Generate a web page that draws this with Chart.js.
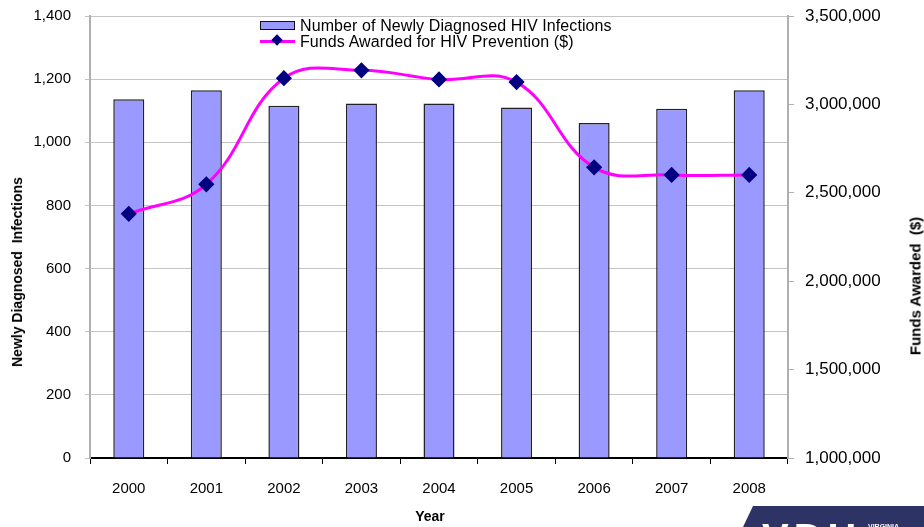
<!DOCTYPE html>
<html>
<head>
  <meta charset="utf-8">
  <title>HIV Infections and Prevention Funds</title>
  <script src="https://cdn.jsdelivr.net/npm/chart.js@4.4.1/dist/chart.umd.min.js"></script>
  <style>
    body { margin: 0; background: #fff; font-family: "Liberation Sans", Arial, sans-serif; }
    #wrap { position: relative; width: 924px; height: 527px; overflow: hidden; }
    #myChart { position: absolute; left: 0; top: -7px; }
    .ytitle { position: absolute; font-weight: bold; white-space: nowrap;
      transform: translate(-50%, -50%) rotate(-90deg); }
    #legend { position: absolute; left: 260px; top: 18px; font-size: 16px; line-height: 15.5px; color: #000; }
    #legend .row { display: flex; align-items: center; white-space: nowrap; letter-spacing: 0.1px; }
    .swatch-bar { width: 33px; height: 7px; background: #9999FF; border: 1px solid #111; margin-right: 5px; }
    .swatch-line { position: relative; width: 35px; height: 3px; background: #FF00FF; margin-right: 5px; }
    .swatch-line:after { content: ""; position: absolute; left: 13px; top: -4px; width: 8px; height: 8px;
      background: #000080; transform: rotate(45deg); }
    #logo { position: absolute; left: 743px; top: 506px; width: 181px; height: 21px; background: #2E3366;
      clip-path: polygon(10px 0, 100% 0, 100% 100%, 0 100%); overflow: hidden; color: #fff; }
  </style>
</head>
<body>
<div id="wrap">
  <canvas id="myChart" width="924" height="534"></canvas>
  <div class="ytitle" style="left:17px; top:272px; font-size:14px;">Newly Diagnosed&nbsp; Infections</div>
  <div class="ytitle" style="left:915px; top:286px; font-size:15px;">Funds Awarded&nbsp; ($)</div>
  <div style="position:absolute; left:430px; top:516px; transform:translate(-50%,-50%); font-weight:bold; font-size:14px;">Year</div>
  <div id="legend">
    <div class="row"><span class="swatch-bar"></span>Number of Newly Diagnosed HIV Infections</div>
    <div class="row"><span class="swatch-line"></span>Funds Awarded for HIV Prevention ($)</div>
  </div>
  <div id="logo">
    <span style="position:absolute; left:19px; top:12px; font:bold 40px/1 'Liberation Sans'; letter-spacing:5px;">VDH</span>
    <span style="position:absolute; left:125px; top:17px; font:bold 7px/1 'Liberation Sans';">VIRGINIA</span>
  </div>
</div>

<script>
  // data
  const years = ['2000', '2001', '2002', '2003', '2004', '2005', '2006', '2007', '2008'];
  const newInfections = [1136, 1165, 1116, 1123, 1123, 1110, 1061, 1106, 1165];
  const fundsAwarded = [2381000, 2548000, 3148000, 3193000, 3141000, 3126000, 2644000, 2601000, 2601000];

  const barLabel = 'Number of Newly Diagnosed HIV Infections';
  const lineLabel = 'Funds Awarded for HIV Prevention ($)';

  const config = {
    data: {
      labels: years,
      datasets: [{
        type: 'line',
        label: lineLabel,
        data: fundsAwarded,
        yAxisID: 'y1',
        borderColor: '#FF00FF',
        borderWidth: 3,
        tension: 0.4,
        pointStyle: 'rectRot',
        pointRadius: 6,
        pointBackgroundColor: '#000080',
        pointBorderColor: '#000080',
        order: 0
      }, {
        type: 'bar',
        label: barLabel,
        data: newInfections,
        yAxisID: 'y',
        backgroundColor: '#9999FF',
        borderColor: '#222',
        borderWidth: 1.5,
        barPercentage: 0.4,
        categoryPercentage: 1,
        order: 1
      }]
    },
    options: {
      responsive: false,
      animation: false,
      layout: { padding: { top: 8, left: 0, right: 0, bottom: 0 } },
      plugins: {
        legend: { display: false },
        tooltip: { enabled: false }
      },
      scales: {
        x: {
          offset: true,
          grid: { offset: true, drawOnChartArea: false, color: '#000', tickLength: 6, lineWidth: 1 },
          border: { color: '#000', width: 2 },
          ticks: { color: '#000', font: { family: 'Liberation Sans', size: 15 }, padding: 16, maxRotation: 0 },
          afterFit: function (s) { s.height = 69; }
        },
        y: {
          position: 'left',
          min: 0,
          max: 1400,
          ticks: { stepSize: 200, color: '#000', font: { family: 'Liberation Sans', size: 15 }, padding: 14 },
          grid: { color: '#C4C4C4', tickLength: 5 },
          border: { color: '#B0B0B0', width: 2 },
          afterFit: function (s) { s.width = 90; }
        },
        y1: {
          position: 'right',
          min: 1000000,
          max: 3500000,
          ticks: { stepSize: 500000, color: '#000', font: { family: 'Liberation Sans', size: 17 }, padding: 11 },
          grid: { drawOnChartArea: false, color: '#B0B0B0', tickLength: 6 },
          border: { color: '#B0B0B0', width: 2 },
          afterFit: function (s) { s.width = 924 - 788; }
        }
      }
    }
  };

  var chart = new Chart(document.getElementById('myChart'), config);
</script>
</body>
</html>
